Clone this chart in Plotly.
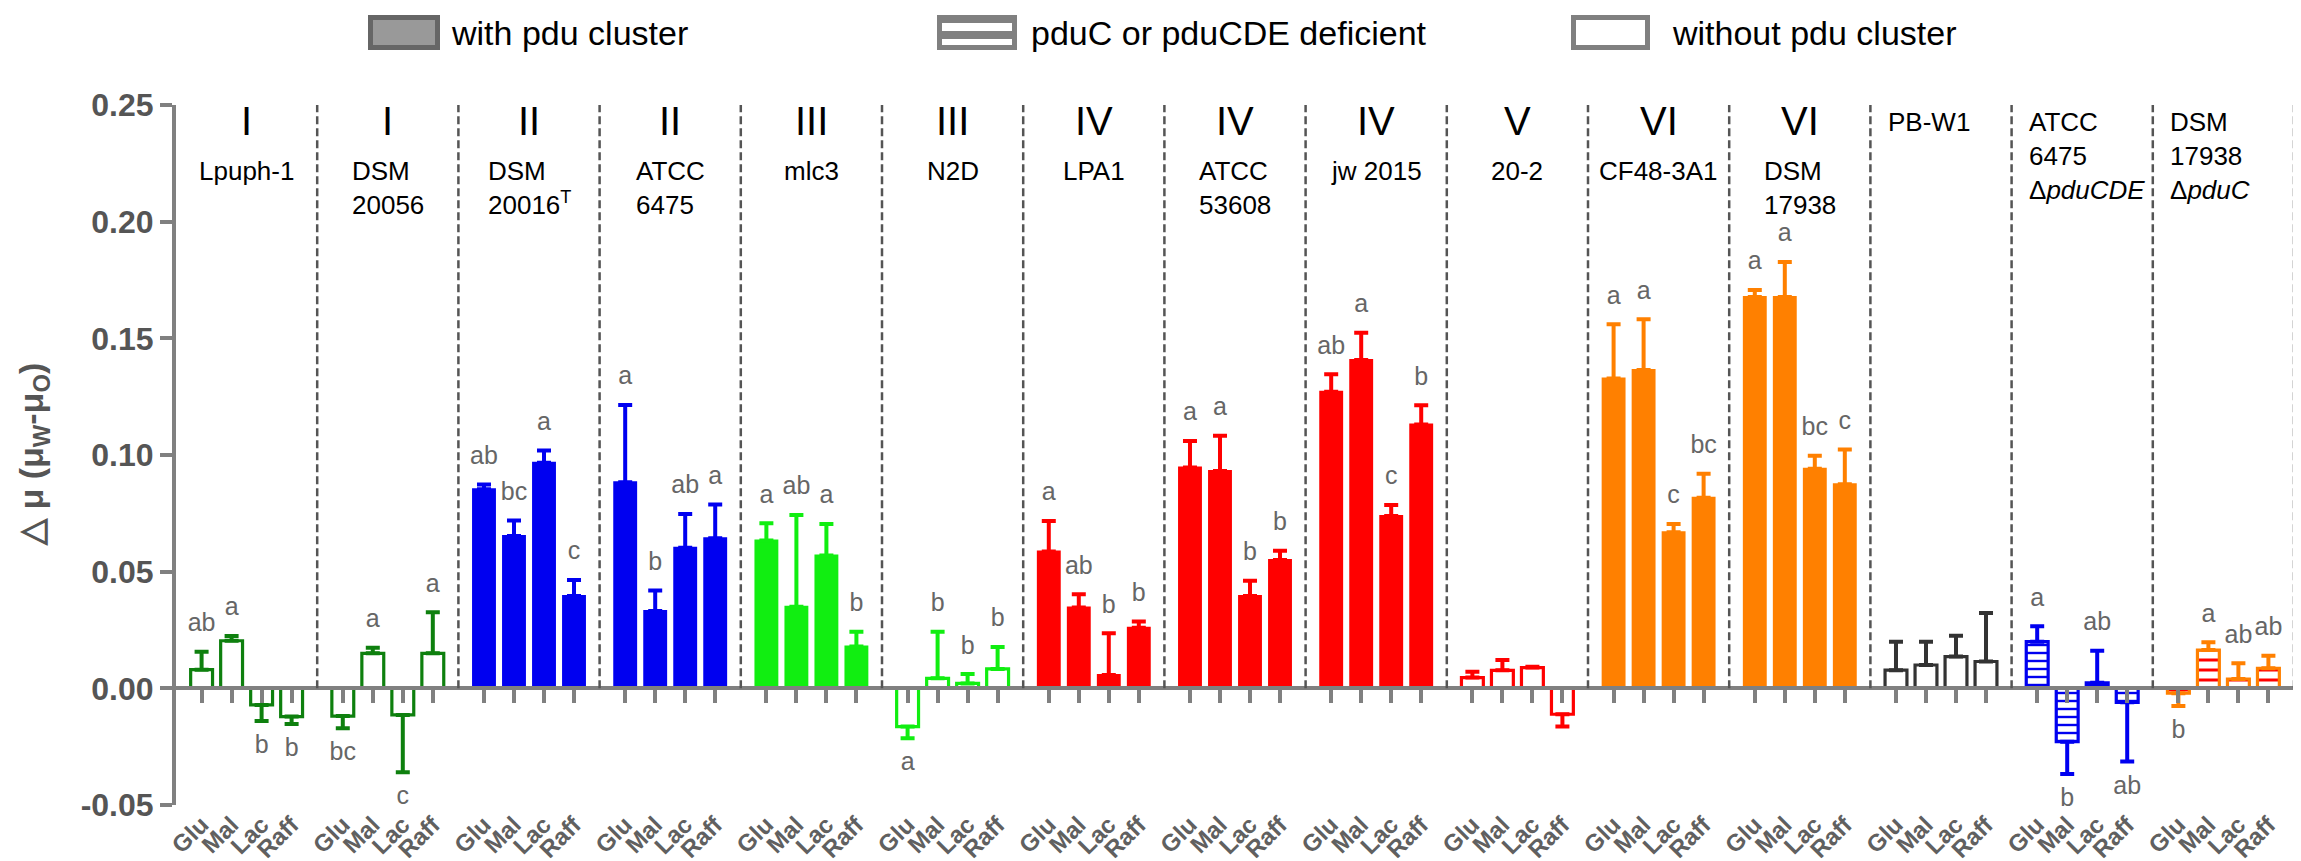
import plotly.graph_objects as go

# ---------------- data ----------------
sugars = ["Glu", "Mal", "Lac", "Raff"]
clades = ["I", "I", "II", "II", "III", "III", "IV", "IV", "IV", "V", "VI", "VI", "", "", ""]
strains = ["Lpuph-1", "DSM<br>20056", "DSM<br>20016<sup>T</sup>", "ATCC<br>6475", "mlc3", "N2D",
           "LPA1", "ATCC<br>53608", "jw 2015", "20-2", "CF48-3A1", "DSM<br>17938", "PB-W1",
           "ATCC<br>6475<br>Δ<i>pduCDE</i>", "DSM<br>17938<br>Δ<i>pduC</i>"]
pdu_status = ["without", "without", "with", "with", "with", "without", "with", "with", "with",
              "without", "with", "with", "without", "deficient", "deficient"]

glu_mean = [0.0080, -0.0119, 0.0853, 0.0883, 0.0634, -0.0164, 0.0586, 0.0946, 0.1271, 0.0046, 0.1328, 0.1677, 0.0078, 0.0200, -0.0021]
mal_mean = [0.0204, 0.0150, 0.0653, 0.0331, 0.0350, 0.0043, 0.0346, 0.0931, 0.1407, 0.0077, 0.1364, 0.1677, 0.0100, -0.0229, 0.0164]
lac_mean = [-0.0071, -0.0114, 0.0967, 0.0603, 0.0569, 0.0021, 0.0057, 0.0396, 0.0739, 0.0089, 0.0669, 0.0941, 0.0136, 0.0024, 0.0040]
raff_mean = [-0.0121, 0.0150, 0.0396, 0.0643, 0.0179, 0.0083, 0.0260, 0.0550, 0.1131, -0.0111, 0.0817, 0.0875, 0.0115, -0.0060, 0.0086]

glu_sd = [0.0077, 0.0052, 0.0021, 0.0331, 0.0073, 0.0050, 0.0131, 0.0114, 0.0075, 0.0025, 0.0232, 0.0030, 0.0122, 0.0066, 0.0055]
mal_sd = [0.0020, 0.0024, 0.0066, 0.0088, 0.0393, 0.0200, 0.0057, 0.0152, 0.0117, 0.0044, 0.0218, 0.0150, 0.0100, 0.0138, 0.0033]
lac_sd = [0.0069, 0.0246, 0.0052, 0.0144, 0.0135, 0.0040, 0.0179, 0.0065, 0.0047, 0.0004, 0.0035, 0.0056, 0.0089, 0.0137, 0.0067]
raff_sd = [0.0032, 0.0176, 0.0068, 0.0145, 0.0064, 0.0094, 0.0026, 0.0040, 0.0082, 0.0053, 0.0103, 0.0149, 0.0208, 0.0254, 0.0054]

glu_sig = ["ab", "bc", "ab", "a", "a", "a", "a", "a", "ab", "", "a", "a", "", "a", "b"]
mal_sig = ["a", "a", "bc", "b", "ab", "b", "ab", "a", "a", "", "a", "a", "", "b", "a"]
lac_sig = ["b", "c", "a", "ab", "a", "b", "b", "b", "c", "", "c", "bc", "", "ab", "ab"]
raff_sig = ["b", "a", "c", "a", "b", "b", "b", "b", "b", "", "bc", "c", "", "ab", "ab"]

yticks = [-0.05, 0.00, 0.05, 0.10, 0.15, 0.20, 0.25]
ytick_labels = ["-0.05", "0.00", "0.05", "0.10", "0.15", "0.20", "0.25"]

# ---------------- styles ----------------
DKGREEN, BLUE, LIME, RED, ORANGE, DKGRAY = "#0e800e", "#0000f0", "#11ee11", "#ff0000", "#ff8000", "#333333"
group_color = [DKGREEN, DKGREEN, BLUE, BLUE, LIME, LIME, RED, RED, RED, RED, ORANGE, ORANGE, DKGRAY, BLUE, ORANGE]
stripe_color = {13: BLUE, 14: RED}
AXIS = "#808080"
FONT = "Liberation Sans, Arial, sans-serif"

W, H = 2301, 861
ML, MR, MT, MB = 168, 15, 97, 64
PW, PH = W - ML - MR, H - MT - MB


def px2x(px):
    return (px - ML) / PW


def py2y(py):
    return (H - MB - py) / PH


STEP = 0.2125
BW = 0.155
means = [glu_mean, mal_mean, lac_mean, raff_mean]
sds = [glu_sd, mal_sd, lac_sd, raff_sd]
sigs = [glu_sig, mal_sig, lac_sig, raff_sig]
ngroups = len(strains)

fig = go.Figure()

tick_x, tick_t = [], []
lab_x, lab_y, lab_t = [], [], []
for g in range(ngroups):
    xs = [g + (j - 1.5) * STEP for j in range(4)]
    ys = [means[j][g] for j in range(4)]
    es = [sds[j][g] for j in range(4)]
    up = [e if v >= 0 else 0 for v, e in zip(ys, es)]
    dn = [e if v < 0 else 0 for v, e in zip(ys, es)]
    c = group_color[g]
    status = pdu_status[g]
    if status == "with":
        marker = dict(color=c, line=dict(color=c, width=2))
    elif status == "without":
        marker = dict(color="white", line=dict(color=c, width=3.2))
    else:
        marker = dict(color="white", line=dict(color=c, width=3.2),
                      pattern=dict(shape="-", fgcolor=stripe_color[g], bgcolor="white",
                                   size=8 if g == 13 else 10, solidity=0.3))
    fig.add_trace(go.Bar(
        x=xs, y=ys, width=BW, marker=marker, showlegend=False, hoverinfo="skip",
        error_y=dict(type="data", symmetric=False, array=up, arrayminus=dn,
                     color=c, thickness=4, width=7),
    ))
    for j in range(4):
        tick_x.append(xs[j])
        tick_t.append(sugars[j])
        s = sigs[j][g]
        if s:
            v = ys[j]
            lab_x.append(xs[j])
            lab_y.append(v + es[j] + 0.0115 if v >= 0 else v - es[j] - 0.011)
            lab_t.append(s)

fig.add_trace(go.Scatter(x=lab_x, y=lab_y, text=lab_t, mode="text", textposition="middle center",
                         textfont=dict(family=FONT, size=25, color="#666666"),
                         showlegend=False, hoverinfo="skip", cliponaxis=False))

# invisible trace to carry the zero-line axis with its ticks
fig.add_trace(go.Scatter(x=tick_x, y=[0] * len(tick_x), xaxis="x2", mode="markers",
                         marker=dict(opacity=0), showlegend=False, hoverinfo="skip"))

# dashed group separators (group boundaries)
shapes = []
for g in range(1, ngroups + 1):
    shapes.append(dict(type="line", xref="x", yref="y", x0=g - 0.5, x1=g - 0.5, y0=0, y1=0.256,
                       line=dict(color="#555555", width=2.5, dash="8px,4px"), layer="above"))

# legend (drawn as shapes + text)
shapes.append(dict(type="rect", xref="paper", yref="paper", x0=px2x(362.5), x1=px2x(429.5),
                   y0=py2y(39.5), y1=py2y(9.5), fillcolor="#999999",
                   line=dict(color="#666666", width=5)))
shapes.append(dict(type="rect", xref="paper", yref="paper", x0=px2x(929), x1=px2x(1009),
                   y0=py2y(42), y1=py2y(7), fillcolor="#808080", line=dict(width=0)))
shapes.append(dict(type="rect", xref="paper", yref="paper", x0=px2x(934), x1=px2x(1004),
                   y0=py2y(23), y1=py2y(15), fillcolor="white", line=dict(width=0)))
shapes.append(dict(type="rect", xref="paper", yref="paper", x0=px2x(934), x1=px2x(1004),
                   y0=py2y(37), y1=py2y(31), fillcolor="white", line=dict(width=0)))
shapes.append(dict(type="rect", xref="paper", yref="paper", x0=px2x(1565.5), x1=px2x(1639.5),
                   y0=py2y(39.5), y1=py2y(9.5), fillcolor="white",
                   line=dict(color="#808080", width=5)))

annotations = []
for txt, px in [("with pdu cluster", 441), ("pduC or pduCDE deficient", 1021), ("without pdu cluster", 1662)]:
    annotations.append(dict(text=txt, xref="paper", yref="paper", x=px2x(px), y=py2y(25),
                            xanchor="left", yanchor="middle", showarrow=False,
                            font=dict(family=FONT, size=34, color="black")))

for g in range(ngroups):
    if clades[g]:
        annotations.append(dict(text=clades[g], xref="x", yref="paper", x=g, y=py2y(113),
                                xanchor="center", yanchor="middle", showarrow=False,
                                font=dict(family=FONT, size=40, color="black")))
        annotations.append(dict(text=strains[g], xref="x", yref="paper", x=g, y=py2y(146),
                                xanchor="center", yanchor="top", align="left", showarrow=False,
                                font=dict(family=FONT, size=26, color="black")))
    else:
        annotations.append(dict(text=strains[g], xref="x", yref="paper", x=g - 0.5 + 0.11,
                                y=py2y(97), xanchor="left", yanchor="top", align="left",
                                showarrow=False, font=dict(family=FONT, size=26, color="black")))

annotations.append(dict(text="<b>△ μ (μ<sub>W</sub>-μ<sub>O</sub>)</b>", xref="paper", yref="paper",
                        x=px2x(25), y=0.5, xanchor="center", yanchor="middle", textangle=-90,
                        showarrow=False, font=dict(family=FONT, size=34, color="#555555")))

fig.update_layout(
    template="none",
    width=W, height=H,
    margin=dict(l=ML, r=MR, t=MT, b=MB),
    paper_bgcolor="white", plot_bgcolor="white",
    barmode="overlay",
    shapes=shapes, annotations=annotations,
    xaxis=dict(range=[-0.5, ngroups - 0.5], tickmode="array", tickvals=tick_x, ticktext=tick_t,
               tickangle=-45, ticks="", showline=False, showgrid=False, zeroline=False,
               automargin=False,
               tickfont=dict(family=FONT, size=24, color="#606060", weight="bold")),
    xaxis2=dict(overlaying="x", anchor="free", position=py2y(H - MB - PH * 0.05 / 0.30),
                range=[-0.5, ngroups - 0.5], tickmode="array", tickvals=tick_x,
                showticklabels=False, ticks="outside", ticklen=13, tickwidth=4, tickcolor=AXIS,
                showline=True, linecolor=AXIS, linewidth=4, showgrid=False, zeroline=False,
                automargin=False, side="bottom", layer="above traces"),
    yaxis=dict(range=[-0.05, 0.25], tickmode="array", tickvals=yticks, ticktext=ytick_labels,
               showline=True, linecolor=AXIS, linewidth=4, ticks="outside", ticklen=12,
               tickwidth=4, tickcolor=AXIS, showgrid=False, zeroline=False, automargin=False,
               tickfont=dict(family=FONT, size=32, color="#555555", weight="bold")),
)

fig.write_html("out.html")
